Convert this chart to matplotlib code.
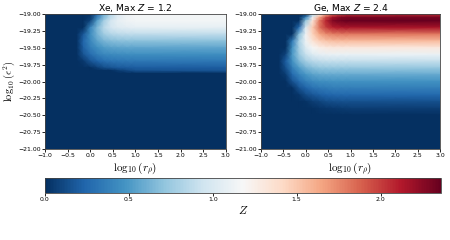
import matplotlib
matplotlib.use("Agg")
import matplotlib.pyplot as plt
import numpy as np

# grid nodes (log10 r_rho columns, log10 eps^2 rows)
x_cols = [-1.0, -0.6, -0.45, -0.3, -0.15, 0.0, 0.15, 0.3, 0.45, 0.6, 0.8, 1.0, 3.0]

xe_rows = [-19.0, -19.1, -19.2, -19.3, -19.4, -19.5, -19.6, -19.7, -19.8, -19.84, -19.88, -21.0]
xe_Z = [
    [0, 0, 0, 0, 0, 0.00, 0.23, 0.58, 0.82, 1.00, 1.11, 1.15, 1.16],
    [0, 0, 0, 0, 0, 0.09, 0.52, 0.77, 0.96, 1.07, 1.13, 1.15, 1.15],
    [0, 0, 0, 0, 0, 0.39, 0.64, 0.85, 0.96, 1.03, 1.06, 1.07, 1.07],
    [0, 0, 0, 0, 0.18, 0.44, 0.62, 0.76, 0.83, 0.86, 0.88, 0.88, 0.88],
    [0, 0, 0, 0, 0.24, 0.41, 0.55, 0.63, 0.67, 0.69, 0.70, 0.70, 0.70],
    [0, 0, 0, 0, 0.22, 0.36, 0.45, 0.51, 0.54, 0.55, 0.56, 0.56, 0.56],
    [0, 0, 0, 0, 0.16, 0.27, 0.36, 0.41, 0.43, 0.44, 0.45, 0.45, 0.45],
    [0, 0, 0, 0, 0.04, 0.16, 0.23, 0.28, 0.31, 0.32, 0.33, 0.33, 0.33],
    [0, 0, 0, 0, 0, 0.00, 0.06, 0.12, 0.15, 0.18, 0.19, 0.20, 0.20],
    [0, 0, 0, 0, 0, 0.00, 0.00, 0.00, 0.00, 0.05, 0.11, 0.15, 0.17],
    [0, 0, 0, 0, 0, 0, 0, 0, 0, 0, 0, 0, 0],
    [0, 0, 0, 0, 0, 0, 0, 0, 0, 0, 0, 0, 0],
]

ge_rows = [-19.0, -19.05, -19.1, -19.2, -19.3, -19.4, -19.5, -19.6, -19.7, -19.8,
           -19.9, -20.0, -20.1, -20.2, -20.3, -20.4, -20.5, -21.0]
ge_Z = [
    [0, 0, 0, 0, 0, 0.00, 0.78, 1.27, 1.64, 1.87, 2.00, 2.05, 2.05],
    [0, 0, 0, 0, 0, 0.37, 1.10, 1.61, 1.96, 2.16, 2.27, 2.30, 2.30],
    [0, 0, 0, 0, 0, 0.71, 1.32, 1.79, 2.08, 2.27, 2.34, 2.36, 2.36],
    [0, 0, 0, 0, 0.26, 1.01, 1.48, 1.81, 2.00, 2.10, 2.14, 2.15, 2.15],
    [0, 0, 0, 0, 0.68, 1.12, 1.44, 1.64, 1.74, 1.78, 1.80, 1.80, 1.80],
    [0, 0, 0, 0.34, 0.80, 1.12, 1.34, 1.46, 1.52, 1.54, 1.55, 1.55, 1.55],
    [0, 0, 0, 0.47, 0.78, 1.03, 1.17, 1.25, 1.29, 1.30, 1.30, 1.30, 1.30],
    [0, 0, 0.09, 0.50, 0.74, 0.91, 1.02, 1.07, 1.09, 1.10, 1.10, 1.10, 1.10],
    [0, 0, 0.20, 0.47, 0.65, 0.78, 0.85, 0.88, 0.90, 0.90, 0.90, 0.90, 0.90],
    [0, 0, 0.14, 0.36, 0.51, 0.62, 0.68, 0.71, 0.72, 0.72, 0.72, 0.72, 0.72],
    [0, 0, 0.05, 0.26, 0.39, 0.48, 0.54, 0.57, 0.58, 0.58, 0.58, 0.58, 0.58],
    [0, 0, 0, 0.15, 0.27, 0.36, 0.42, 0.45, 0.46, 0.47, 0.47, 0.47, 0.47],
    [0, 0, 0, 0, 0.15, 0.23, 0.30, 0.33, 0.35, 0.36, 0.36, 0.36, 0.36],
    [0, 0, 0, 0, 0.03, 0.12, 0.17, 0.21, 0.235, 0.245, 0.25, 0.25, 0.25],
    [0, 0, 0, 0, 0, 0.01, 0.06, 0.09, 0.12, 0.13, 0.14, 0.14, 0.14],
    [0, 0, 0, 0, 0, 0, 0, 0.02, 0.035, 0.045, 0.055, 0.06, 0.06],
    [0, 0, 0, 0, 0, 0, 0, 0, 0, 0, 0, 0, 0],
    [0, 0, 0, 0, 0, 0, 0, 0, 0, 0, 0, 0, 0],
]

titles = ["Xe, Max $Z$ = 1.2", "Ge, Max $Z$ = 2.4"]
zmax = 2.36
cbar_ticks = [0.0, 0.5, 1.0, 1.5, 2.0]

fig = plt.figure(figsize=(4.5, 2.4), dpi=100)
ax1 = fig.add_axes([0.100, 0.379, 0.402, 0.5625])
ax2 = fig.add_axes([0.580, 0.379, 0.398, 0.5625])
cax = fig.add_axes([0.100, 0.196, 0.880, 0.0625])

for ax, rows, Z, title in [(ax1, xe_rows, xe_Z, titles[0]), (ax2, ge_rows, ge_Z, titles[1])]:
    mesh = ax.pcolormesh(x_cols, rows, np.array(Z), cmap="RdBu_r", vmin=0, vmax=zmax,
                         shading="gouraud", rasterized=True)
    ax.set_xlim(-1, 3)
    ax.set_ylim(-21, -19)
    ax.set_xticks(np.arange(-1, 3.01, 0.5))
    ax.set_yticks(np.arange(-21, -18.99, 0.25))
    ax.tick_params(labelsize=4.4, length=2, width=0.6, pad=1)
    ax.set_title(title, fontsize=6.6, pad=1.5)
    ax.set_xlabel(r"$\log_{10}(r_\rho)$", fontsize=8, math_fontfamily="cm", labelpad=1)
    for s in ax.spines.values():
        s.set_linewidth(0.6)
        s.set_color("#444444")

ax1.set_ylabel(r"$\log_{10}(\epsilon^2)$", fontsize=7.5, math_fontfamily="cm")
ax1.yaxis.set_label_coords(-0.155, 0.5)

cb = fig.colorbar(mesh, cax=cax, orientation="horizontal", ticks=cbar_ticks)
cb.ax.tick_params(labelsize=4.4, length=2, width=0.6, pad=1)
cb.outline.set_linewidth(0.6)
cb.outline.set_edgecolor("#444444")
cb.set_label(r"$Z$", fontsize=8.5, math_fontfamily="cm", labelpad=1)

fig.savefig("out.png", dpi=100)
